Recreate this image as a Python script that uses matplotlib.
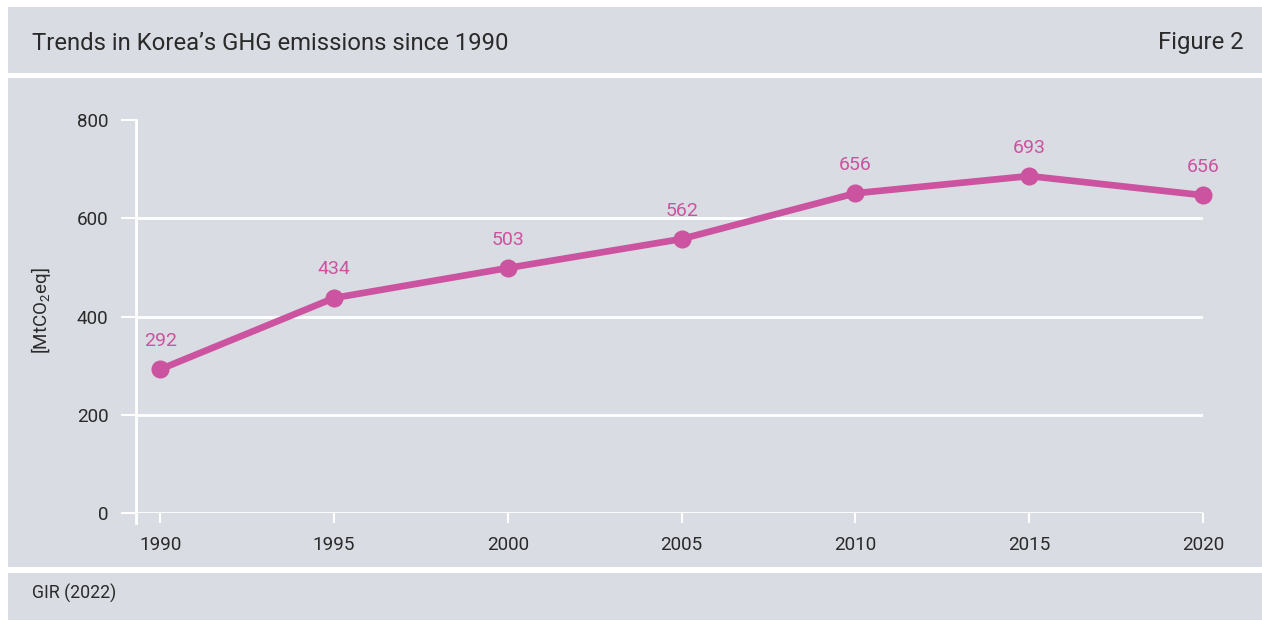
import matplotlib.pyplot as plt
from matplotlib.patches import Rectangle

years = [1990, 1995, 2000, 2005, 2010, 2015, 2020]
# positions, labels as printed on the chart
values = [293, 438, 499, 558, 651, 686, 647]
labels = ["292", "434", "503", "562", "656", "693", "656"]
yticks = [0, 200, 400, 600, 800]
grid_vals = [0, 200, 400, 600]

title = "Trends in Korea\u2019s GHG emissions since 1990"
fig_no = "Figure 2"
source = "GIR (2022)"

grey = "#d9dce3"
pink = "#cb539f"
txt = "#2a2a2a"

plt.rcParams['font.family'] = ['Roboto', 'DejaVu Sans']
plt.rcParams['mathtext.fontset'] = 'custom'
plt.rcParams['mathtext.rm'] = 'Roboto'

W, H = 1262, 621
fig = plt.figure(figsize=(W / 100, H / 100), dpi=100, facecolor="white")

def band(y0, y1):
    # pixel rows from the top -> figure fraction
    fig.patches.append(Rectangle((8 / W, 1 - y1 / H), 1 - 8 / W, (y1 - y0) / H,
                                 transform=fig.transFigure, facecolor=grey,
                                 edgecolor="none", zorder=-10))

band(7, 73)
band(78, 567)
band(573, 620)

fig.text(32 / W, 1 - 43 / H, title, fontsize=17.2, color=txt, va="center", ha="left")
fig.text(1244 / W, 1 - 43 / H, fig_no, fontsize=17.2, color=txt, va="center", ha="right")
fig.text(32 / W, 1 - 593 / H, source, fontsize=12.8, color=txt, va="center", ha="left")

ax = fig.add_axes([136 / W, 1 - 513.3 / H, (1203 - 136) / W, (513.3 - 120) / H], zorder=2)
ax.set_facecolor("none")
ax.set_xlim(1989.3, 2020)
ax.set_ylim(0, 800)

for s in ["top", "right", "bottom"]:
    ax.spines[s].set_visible(False)
ax.spines["left"].set_color("white")
ax.spines["left"].set_linewidth(2)
ax.spines["left"].set_bounds(-20, 800)

ax.hlines(grid_vals, 1989.3, 2020, color="white", lw=2, zorder=1)

ax.set_xticks(years)
ax.set_yticks(yticks)
ax.tick_params(axis="x", direction="out", length=7.2, width=1.5, color="white",
               labelsize=13.6, labelcolor=txt, pad=9)
ax.tick_params(axis="y", direction="out", length=10.8, width=1.5, color="white",
               labelsize=13.6, labelcolor=txt, pad=9)

ax.plot(years, values, color=pink, lw=4.8, marker="o", markersize=12,
        zorder=3, clip_on=False)
for x, v, lab in zip(years, values, labels):
    ax.annotate(lab, (x, v), xytext=(0, 20.5), textcoords="offset points",
                ha="center", va="center", fontsize=14, color=pink)

fig.text(41 / W, 1 - 311 / H, r"[MtCO$_\mathrm{2}$eq]", rotation=90, fontsize=13.5,
         color=txt, ha="center", va="center")

fig.savefig("out.png", dpi=100, facecolor="white")
